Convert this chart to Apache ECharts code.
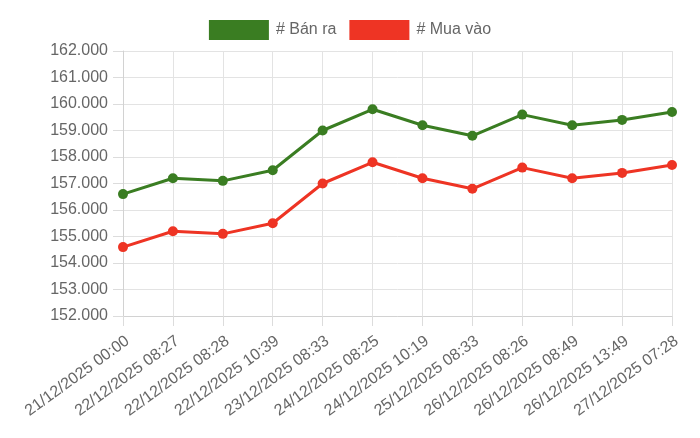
<!DOCTYPE html>
<html>
<head>
<meta charset="utf-8">
<script src="https://cdn.jsdelivr.net/npm/echarts@6/dist/echarts.min.js"></script>
<style>
html,body{margin:0;padding:0;background:#fff;}
#c{width:700px;height:438px;}
</style>
</head>
<body>
<div id="c"></div>
<script>
var categories = ["21/12/2025 00:00","22/12/2025 08:27","22/12/2025 08:28","22/12/2025 10:39","23/12/2025 08:33","24/12/2025 08:25","24/12/2025 10:19","25/12/2025 08:33","26/12/2025 08:26","26/12/2025 08:49","26/12/2025 13:49","27/12/2025 07:28"];
var banRa = [156600,157200,157100,157500,159000,159800,159200,158800,159600,159200,159400,159700];
var muaVao = [154600,155200,155100,155500,157000,157800,157200,156800,157600,157200,157400,157700];
var seriesNames = ["# Bán ra","# Mua vào"];

function fmt(v){
  return String(v).replace(/\B(?=(\d{3})+(?!\d))/g, ".");
}
var font = "'Liberation Sans', Arial, sans-serif";
var gridColor = "#e3e3e3";
var chart = echarts.init(document.getElementById('c'));
chart.setOption({
  animation:false,
  legend:{
    top:15, left:'center', itemWidth:60, itemHeight:20, itemGap:13,
    icon:'rect',
    textStyle:{fontSize:16, color:'#666', fontFamily:font, padding:[0,0,0,2]},
    data:seriesNames
  },
  grid:{left:123, right:28, top:51, bottom:122, containLabel:false},
  xAxis:{
    type:'category', data:categories, boundaryGap:false,
    axisLine:{show:true, lineStyle:{color:'#d2d2d2', width:1}},
    axisTick:{show:true, length:10, lineStyle:{color:'#dcdcdc'}},
    splitLine:{show:true, lineStyle:{color:gridColor}},
    axisLabel:{rotate:36, fontSize:16, color:'#666', fontFamily:font, margin:17, interval:0, verticalAlign:'top'}
  },
  yAxis:{
    type:'value', min:152000, max:162000, interval:1000,
    axisLine:{show:true, lineStyle:{color:'#d2d2d2', width:1}},
    axisTick:{show:true, length:10, lineStyle:{color:'#dcdcdc'}},
    splitLine:{show:true, lineStyle:{color:gridColor}},
    axisLabel:{fontSize:16, color:'#666', fontFamily:font, margin:15, formatter:fmt}
  },
  series:[
    {name:seriesNames[0], type:'line', data:banRa, color:'#3a7d22',
     symbol:'circle', symbolSize:10, lineStyle:{width:3}, itemStyle:{color:'#3a7d22'}},
    {name:seriesNames[1], type:'line', data:muaVao, color:'#ee3424',
     symbol:'circle', symbolSize:10, lineStyle:{width:3}, itemStyle:{color:'#ee3424'}}
  ]
});
</script>
</body>
</html>
